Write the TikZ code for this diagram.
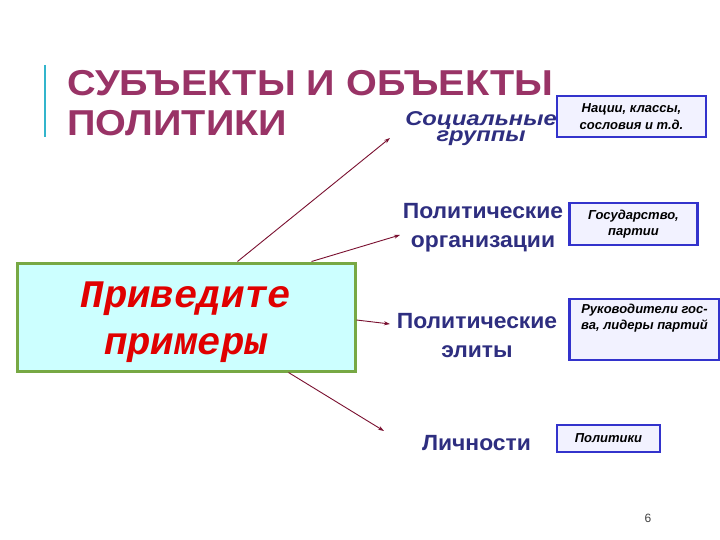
\documentclass[tikz,border=0pt]{standalone}
\usepackage{fontspec}
\setmainfont{Liberation Sans}[BoldFont={Liberation Sans Bold}, ItalicFont={Liberation Sans Italic}, BoldItalicFont={Liberation Sans Bold Italic}]
\newfontfamily\monofont{Liberation Mono}[BoldItalicFont={Liberation Mono Bold Italic}]
\usetikzlibrary{arrows.meta}
\definecolor{titlecol}{HTML}{993366}
\definecolor{catcol}{HTML}{2E2E80}
\definecolor{arrcol}{HTML}{7A1030}
\definecolor{mainfill}{HTML}{CCFFFF}
\definecolor{mainborder}{HTML}{77A844}
\definecolor{boxborder}{HTML}{3333CC}
\definecolor{boxfill}{HTML}{F2F2FF}
\definecolor{redtext}{HTML}{E00000}
\definecolor{barcol}{HTML}{33B5CC}
\tikzset{
  cat/.style={text=catcol, font=\fontsize{22}{29}\selectfont\bfseries, align=center, inner sep=0pt, anchor=north, xscale=1.04},
  exbox/.style={draw=boxborder, fill=boxfill, line width=2.5pt, inner sep=0pt},
  extext/.style={font=\fontsize{13}{16.5}\selectfont\bfseries\itshape, align=center, inner sep=0pt},
  arr/.style={draw=arrcol, line width=0.9pt, -{Stealth[length=6pt,width=4pt]}}
}
\begin{document}
\begin{tikzpicture}[x=1pt,y=-1pt]
\useasboundingbox (0,0) rectangle (720,540);
\fill[white] (0,0) rectangle (720,540);
% left bar
\draw[barcol, line width=1.5pt] (45,65) -- (45,137);
% title
\node[anchor=north west, inner sep=0pt, align=left, text=titlecol, xscale=1.1,
  font=\fontsize{36}{40}\selectfont\bfseries] (title) at (67,70)
  {СУБЪЕКТЫ И ОБЪЕКТЫ\\ПОЛИТИКИ};
% main box
\node[draw=mainborder, fill=mainfill, line width=3pt, minimum width=338pt, minimum height=108pt,
  inner sep=0pt] (main) at (186,317) {};
\node[align=center, inner sep=0pt, text=redtext,
  font=\monofont\fontsize{39}{47}\selectfont\bfseries\itshape] (maintext) at ([yshift=-5pt]main.center)
  {Приведите\\примеры};
% categories
\node[cat, xscale=1.14, font=\fontsize{20}{16}\selectfont\bfseries\itshape] (c1) at (481,111) {Социальные\\группы};
\node[cat] (c2) at (483,203) {Политические\\организации};
\node[cat] (c3) at (477,313) {Политические\\элиты};
\node[cat] (c4) at (476.5,435) {Личности};
% example boxes
\node[exbox, minimum width=149pt, minimum height=41pt] (b1) at (631.5,116.5) {};
\node[extext] (t1) at (b1.center) {Нации, классы,\\сословия и т.д.};
\node[exbox, minimum width=128pt, minimum height=42pt] (b2) at (633.5,224) {};
\node[extext] (t2) at (b2.center) {Государство,\\партии};
\node[exbox, minimum width=150pt, minimum height=61pt] (b3) at (644.5,329.5) {};
\node[extext, anchor=north] (t3) at ([yshift=-6pt]b3.north) {Руководители гос-\\ва, лидеры партий};
\node[exbox, minimum width=103pt, minimum height=27pt] (b4) at (608.5,438.5) {};
\node[extext] (t4) at (b4.center) {Политики};
% arrow ends
\coordinate (e1) at (390,138);
\coordinate (e2) at (400,235);
\coordinate (e3) at (390,324);
\coordinate (e4) at (384,431);
\draw[arr] ([xshift=222pt]main.north west) -- (e1);
\draw[arr] ([xshift=296pt]main.north west) -- (e2);
\draw[arr] ([yshift=-3pt]main.east) -- (e3);
\draw[arr] ([xshift=273pt]main.south west) -- (e4);
% page number
\node[inner sep=0pt, text=black!75, font=\fontsize{12}{14}\selectfont] (pg) at (648,518) {6};
\end{tikzpicture}
\end{document}
